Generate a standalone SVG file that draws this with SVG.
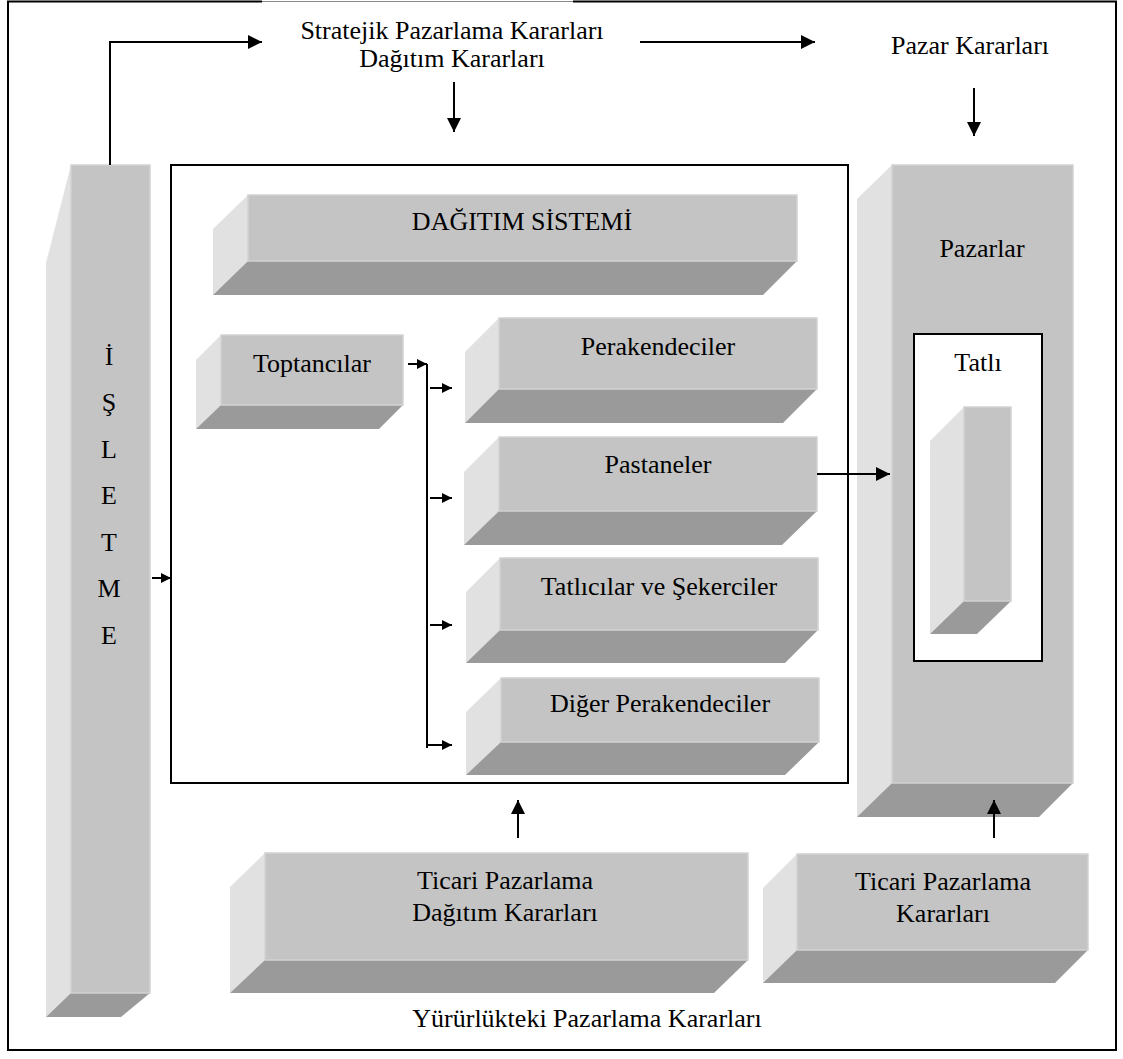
<svg xmlns="http://www.w3.org/2000/svg" width="1123" height="1059" viewBox="0 0 1123 1059">
<style>
.lf{fill:#e1e1e1}
.bf{fill:#9a9a9a}
.ff{fill:#c4c4c4;stroke:#d2d2d2;stroke-width:1.5}
.t{font-family:"Liberation Serif","Times New Roman",serif;font-size:26px;fill:#000;text-anchor:middle}
.c{fill:none;stroke:#000;stroke-width:2}
.frame{fill:none;stroke:#000;stroke-width:2}
</style>
<defs>
<marker id="ah" viewBox="0 0 10 10" refX="10" refY="5" markerWidth="7" markerHeight="7" orient="auto" markerUnits="strokeWidth"><path d="M0,0 L10,5 L0,10 z" fill="#000"/></marker>
<marker id="ahs" viewBox="0 0 10 10" refX="10" refY="5" markerWidth="5" markerHeight="5" orient="auto" markerUnits="strokeWidth"><path d="M0,0 L10,5 L0,10 z" fill="#000"/></marker>
</defs>
<rect width="1123" height="1059" fill="#fff"/>
<g id="frame">
<path class="frame" d="M262,1.5 H8 V1050 H1116 V1.5 H573"/>
<path d="M262,1.5 H573" stroke="#888" stroke-width="1" fill="none"/>
</g>
<g id="inner-frame"><rect x="171" y="165" width="677" height="618" fill="#fff" stroke="#000" stroke-width="2"/></g>

<g id="isletme">
<polygon class="lf" points="46,263 71,165 71,993 46,1017"/>
<polygon class="bf" points="46,1017 71,993 150,993 121,1017"/>
<rect class="ff" x="71" y="165" width="79" height="828"/>
<text class="t" x="109" y="365">İ</text>
<text class="t" x="109" y="411">Ş</text>
<text class="t" x="109" y="458">L</text>
<text class="t" x="109" y="504">E</text>
<text class="t" x="109" y="551">T</text>
<text class="t" x="109" y="597">M</text>
<text class="t" x="109" y="644">E</text>
</g>

<g id="dagitim-sistemi">
<polygon class="lf" points="213,229 248,195 248,261 213,295"/>
<polygon class="bf" points="213,295 248,261 797,261 763,295"/>
<rect class="ff" x="248" y="195" width="549" height="66"/>
<text class="t" x="522" y="230">DAĞITIM SİSTEMİ</text>
</g>

<g id="toptancilar">
<polygon class="lf" points="196,360 221,335 221,405 196,429"/>
<polygon class="bf" points="196,429 221,405 403,405 379,429"/>
<rect class="ff" x="221" y="335" width="182" height="70"/>
<text class="t" x="312" y="372">Toptancılar</text>
</g>

<g id="perakendeciler">
<polygon class="lf" points="465,352 499,318 499,389 465,423"/>
<polygon class="bf" points="465,423 499,389 817,389 783,423"/>
<rect class="ff" x="499" y="318" width="318" height="71"/>
<text class="t" x="658" y="355">Perakendeciler</text>
</g>

<g id="pastaneler">
<polygon class="lf" points="464,472 499,437 499,511 464,545"/>
<polygon class="bf" points="464,545 499,511 817,511 782,545"/>
<rect class="ff" x="499" y="437" width="318" height="74"/>
<text class="t" x="658" y="473">Pastaneler</text>
</g>

<g id="tatlicilar">
<polygon class="lf" points="466,592 500,558 500,630 466,663"/>
<polygon class="bf" points="466,663 500,630 818,630 785,663"/>
<rect class="ff" x="500" y="558" width="318" height="72"/>
<text class="t" x="659" y="595">Tatlıcılar ve Şekerciler</text>
</g>

<g id="diger-perakendeciler">
<polygon class="lf" points="466,712 501,678 501,742 466,775"/>
<polygon class="bf" points="466,775 501,742 819,742 785,775"/>
<rect class="ff" x="501" y="678" width="318" height="64"/>
<text class="t" x="660" y="712">Diğer Perakendeciler</text>
</g>

<g id="pazarlar">
<polygon class="lf" points="857,199 892,165 892,783 857,817"/>
<polygon class="bf" points="857,817 892,783 1073,783 1039,817"/>
<rect class="ff" x="892" y="165" width="181" height="618"/>
<text class="t" x="982" y="257">Pazarlar</text>
</g>

<g id="tatli">
<rect x="914" y="334" width="128" height="327" fill="#fff" stroke="#000" stroke-width="2"/>
<text class="t" x="978" y="371">Tatlı</text>
<polygon class="lf" points="930,441 964,407 964,601 930,634"/>
<polygon class="bf" points="930,634 964,601 1011,601 977,634"/>
<rect class="ff" x="964" y="407" width="47" height="194"/>
</g>

<g id="ticari-dagitim">
<polygon class="lf" points="230,887 265,853 265,960 230,993"/>
<polygon class="bf" points="230,993 265,960 748,960 714,993"/>
<rect class="ff" x="265" y="853" width="483" height="107"/>
<text class="t" x="505" y="889">Ticari Pazarlama</text>
<text class="t" x="505" y="921">Dağıtım Kararları</text>
</g>

<g id="ticari-kararlar">
<polygon class="lf" points="763,888 797,854 797,950 763,983"/>
<polygon class="bf" points="763,983 797,950 1088,950 1055,983"/>
<rect class="ff" x="797" y="854" width="291" height="96"/>
<text class="t" x="943" y="890">Ticari Pazarlama</text>
<text class="t" x="943" y="922">Kararları</text>
</g>

<g id="labels">
<text class="t" x="452" y="39">Stratejik Pazarlama Kararları</text>
<text class="t" x="452" y="67">Dağıtım Kararları</text>
<text class="t" x="970" y="54">Pazar Kararları</text>
<text class="t" x="587" y="1027">Yürürlükteki Pazarlama Kararları</text>
</g>

<g id="connectors">
<path class="c" d="M110,165 V42 H262" marker-end="url(#ah)"/>
<path class="c" d="M640,42 H815" marker-end="url(#ah)"/>
<path class="c" d="M454,82 V132" marker-end="url(#ah)"/>
<path class="c" d="M974,88 V136" marker-end="url(#ah)"/>
<path class="c" d="M152,578 H171" marker-end="url(#ahs)"/>
<path class="c" d="M408,364 H427" marker-end="url(#ahs)"/>
<path class="c" d="M427,364 V748"/>
<path class="c" d="M430,388 H452" marker-end="url(#ahs)"/>
<path class="c" d="M430,498 H452" marker-end="url(#ahs)"/>
<path class="c" d="M430,625 H452" marker-end="url(#ahs)"/>
<path class="c" d="M427,745 H452" marker-end="url(#ahs)"/>
<path class="c" d="M817,474 H890" marker-end="url(#ah)"/>
<path class="c" d="M518,838 V800" marker-end="url(#ah)"/>
<path class="c" d="M994,838 V800" marker-end="url(#ah)"/>
</g>
</svg>
